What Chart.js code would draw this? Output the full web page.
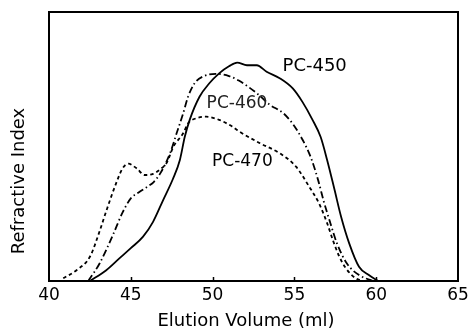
<!DOCTYPE html>
<html>
<head>
<meta charset="utf-8">
<script src="https://cdn.jsdelivr.net/npm/chart.js@4"></script>
<style>
html,body{margin:0;padding:0;background:#fff;}
#wrap{width:468px;height:329px;position:relative;}
</style>
</head>
<body>
<div id="wrap"><canvas id="c" width="468" height="329"></canvas></div>
<script>
// ---- data ----
const xTicks = [40, 45, 50, 55, 60, 65];

const pc450X = [42.5, 43.5, 44.3, 45.0, 45.75, 46.36, 46.97, 47.58, 48.0, 48.3, 48.6, 49.2, 49.8, 50.4, 51.0, 51.5, 52.1, 52.7, 53.3, 54.1, 54.9, 55.5, 56.1, 56.6, 57.0, 57.45, 57.85, 58.35, 58.95, 59.55, 60.1];
const pc450Y = [0, 4, 8.4, 12.2, 16.5, 22, 30, 38, 45, 53.6, 59.9, 68.5, 73.5, 77.2, 79.8, 81.2, 80.2, 80.2, 77.8, 75.4, 71.6, 66.5, 60, 53.6, 45, 34, 24, 14, 5.3, 2.2, 0];

const pc460X = [42.4, 43.1, 43.9, 44.5, 45.0, 45.5, 46.0, 46.4, 46.8, 47.4, 47.8, 48.2, 48.5, 48.9, 49.4, 50.2, 51.0, 51.6, 52.7, 53.5, 54.3, 54.9, 55.5, 56.0, 56.45, 56.8, 57.2, 57.6, 58.2, 58.95, 59.8];
const pc460Y = [0, 6.6, 17, 25.5, 30.7, 33, 35, 36.8, 40, 47.5, 54.9, 62.3, 68.5, 73.5, 76, 77, 76.2, 74.5, 69.8, 65.5, 62.5, 58.4, 52.5, 46, 37.5, 29.5, 21.5, 14, 6.6, 2.2, 0];

const pc470X = [40.87, 41.7, 42.5, 43.1, 43.5, 44.1, 44.5, 44.85, 45.35, 45.85, 46.36, 46.8, 47.2, 47.6, 48.2, 48.5, 49.0, 49.6, 50.4, 51.2, 51.65, 52.9, 54.1, 55.1, 55.9, 56.5, 57.0, 57.35, 57.75, 58.15, 58.75, 59.2];
const pc470Y = [1, 4.1, 9, 18.6, 26, 36.3, 41.9, 43.6, 41.9, 39.4, 39.8, 41.5, 44, 49.9, 54.9, 58.6, 60.5, 61.1, 59.9, 57.4, 55.5, 51.2, 47.5, 42.5, 35.1, 28.9, 21.5, 15.2, 9, 4.7, 1, 0];

const seriesLabels = ['PC-450', 'PC-460', 'PC-470'];
const labelAnchorX = [56.24, 51.49, 51.82];
const labelAnchorY = [79.9, 65.9, 44.5];

const xTitle = 'Elution Volume (ml)';
const yTitle = 'Refractive Index';

// ---- build ----
function pts(xs, ys) { return xs.map((x, i) => ({x: x, y: ys[i]})); }

const FONT = 'DejaVu Sans';

const framePlugin = {
  id: 'frame',
  afterDraw(chart) {
    const ctx = chart.ctx;
    const a = chart.chartArea;
    const xs = chart.scales.x;
    const ys = chart.scales.y;
    ctx.save();
    ctx.strokeStyle = '#000';
    ctx.lineWidth = 2;
    ctx.strokeRect(a.left, a.top, a.right - a.left, a.bottom - a.top);
    // inward tick marks
    ctx.lineWidth = 1.5;
    xTicks.forEach(v => {
      if (v === xTicks[0] || v === xTicks[xTicks.length - 1]) return;
      const px = Math.round(xs.getPixelForValue(v)) + 0.5;
      ctx.beginPath();
      ctx.moveTo(px, a.bottom);
      ctx.lineTo(px, a.bottom - 4);
      ctx.stroke();
    });
    // series labels
    ctx.textAlign = 'center';
    ctx.textBaseline = 'middle';
    const sizes = [18, 17, 17];
    seriesLabels.forEach((t, i) => {
      ctx.font = sizes[i] + 'px "' + FONT + '"';
      ctx.fillStyle = i === 1 ? '#222' : '#000';
      ctx.fillText(t, xs.getPixelForValue(labelAnchorX[i]), ys.getPixelForValue(labelAnchorY[i]));
    });
    // axis titles
    ctx.fillStyle = '#000';
    ctx.font = '18px "' + FONT + '"';
    ctx.textBaseline = 'alphabetic';
    ctx.fillText(xTitle, 246, 326);
    ctx.save();
    ctx.translate(24, 181);
    ctx.rotate(-Math.PI / 2);
    ctx.fillText(yTitle, 0, 0);
    ctx.restore();
    ctx.restore();
  }
};

new Chart(document.getElementById('c'), {
  type: 'line',
  data: {
    datasets: [
      {label: seriesLabels[0], data: pts(pc450X, pc450Y), borderColor: '#000', borderWidth: 1.8, pointRadius: 0, cubicInterpolationMode: 'monotone', fill: false},
      {label: seriesLabels[1], data: pts(pc460X, pc460Y), borderColor: '#000', borderWidth: 1.8, borderDash: [7, 3, 1.5, 3], pointRadius: 0, cubicInterpolationMode: 'monotone', fill: false},
      {label: seriesLabels[2], data: pts(pc470X, pc470Y), borderColor: '#000', borderWidth: 1.8, borderDash: [3.5, 3], pointRadius: 0, cubicInterpolationMode: 'monotone', fill: false}
    ]
  },
  options: {
    responsive: false,
    animation: false,
    devicePixelRatio: 1,
    layout: {padding: {top: 12, right: 10, left: 0, bottom: 0}},
    plugins: {legend: {display: false}, tooltip: {enabled: false}},
    scales: {
      x: {
        type: 'linear', min: 40, max: 65,
        afterBuildTicks(s) { s.ticks = xTicks.map(v => ({value: v})); },
        afterFit(s) { s.height = 48; s.paddingLeft = 0; s.paddingRight = 0; },
        grid: {display: false, drawTicks: false},
        border: {display: false},
        ticks: {color: '#000', font: {family: FONT, size: 17}, padding: 4, maxRotation: 0, autoSkip: false}
      },
      y: {
        type: 'linear', min: 0, max: 100,
        afterFit(s) { s.width = 49; s.paddingTop = 0; s.paddingBottom = 0; },
        grid: {display: false, drawTicks: false},
        border: {display: false},
        ticks: {display: false}
      }
    }
  },
  plugins: [framePlugin]
});
</script>
</body>
</html>
